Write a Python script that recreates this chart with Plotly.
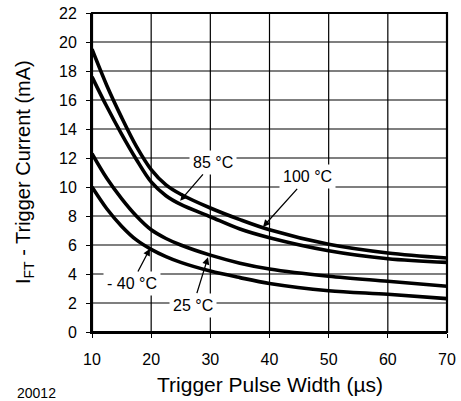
import plotly.graph_objects as go

# ---- data ----
pulse_width = [10, 12.5, 15, 17.5, 20, 22.5, 25, 30, 35, 40, 50, 60, 70]
i_100c = [19.5, 17.0, 14.8, 12.8, 11.2, 10.15, 9.5, 8.55, 7.75, 7.05, 6.05, 5.45, 5.1]
i_85c = [17.6, 15.55, 13.65, 11.9, 10.35, 9.4, 8.8, 7.95, 7.1, 6.5, 5.6, 5.05, 4.8]
i_25c = [12.3, 10.6, 9.2, 8.0, 7.05, 6.45, 6.0, 5.3, 4.75, 4.35, 3.85, 3.5, 3.15]
i_m40c = [10.0, 8.5, 7.3, 6.35, 5.7, 5.2, 4.8, 4.2, 3.75, 3.35, 2.85, 2.6, 2.3]

series_names = ["100 °C", "85 °C", "25 °C", "- 40 °C"]
series_values = [i_100c, i_85c, i_25c, i_m40c]

label_text = ["85 °C", "100 °C", "- 40 °C", "25 °C"]
label_pos = [(30.5, 11.7), (46.5, 10.7), (16.7, 3.35), (27.1, 1.85)]
arrow_tip = [(24.9, 9.05), (38.9, 7.25), (19.8, 5.75), (29.6, 5.15)]

x_ticks = [10, 20, 30, 40, 50, 60, 70]
y_ticks = [0, 2, 4, 6, 8, 10, 12, 14, 16, 18, 20, 22]

FONT = "Liberation Sans, Arial, Helvetica, sans-serif"

fig = go.Figure()
for name, vals in zip(series_names, series_values):
    fig.add_trace(go.Scatter(
        x=pulse_width, y=vals, mode="lines", name=name,
        line=dict(color="black", width=3.6, shape="spline", smoothing=0.9),
        hoverinfo="x+y+name",
    ))

# grid lines placed on the axes' own scales at the tick values
for xv in x_ticks:
    fig.add_shape(type="line", xref="x", yref="paper", x0=xv, x1=xv, y0=0, y1=1,
                  line=dict(color="black", width=1.2), layer="below")
for yv in y_ticks:
    fig.add_shape(type="line", xref="paper", yref="y", x0=0, x1=1, y0=yv, y1=yv,
                  line=dict(color="black", width=1.2), layer="below")
# plot frame
fig.add_shape(type="rect", xref="paper", yref="paper", x0=0, x1=1, y0=0, y1=1,
              line=dict(color="black", width=2.2), fillcolor="rgba(0,0,0,0)", layer="above")

for txt, (lx, ly), (tx, ty) in zip(label_text, label_pos, arrow_tip):
    fig.add_annotation(
        x=tx, y=ty, xref="x", yref="y",
        ax=lx, ay=ly, axref="x", ayref="y",
        text=txt, showarrow=True,
        arrowhead=2, arrowsize=1.1, arrowwidth=1.3, arrowcolor="black",
        bgcolor="white", borderpad=3,
        font=dict(family=FONT, size=16, color="black"),
    )

fig.add_annotation(
    x=-0.156, y=-0.19, xref="paper", yref="paper",
    text="20012", showarrow=False, xanchor="center", yanchor="middle",
    font=dict(family=FONT, size=14, color="black"),
)
fig.add_annotation(
    x=0.5, y=-0.165, xref="paper", yref="paper",
    text="Trigger Pulse Width (µs)", showarrow=False,
    xanchor="center", yanchor="middle",
    font=dict(family=FONT, size=21, color="black"),
)
fig.add_annotation(
    x=-0.19, y=0.5, xref="paper", yref="paper",
    text="I<sub>FT</sub> - Trigger Current (mA)", showarrow=False,
    xanchor="center", yanchor="middle", textangle=-90,
    font=dict(family=FONT, size=20, color="black"),
)

axis_common = dict(
    showgrid=False, showline=True, linecolor="#000000", linewidth=2, mirror=False,
    ticks="outside", ticklen=4, tickcolor="#000000", tickwidth=1.2,
    tickfont=dict(family=FONT, size=16, color="black"),
    zeroline=False, automargin=False,
)

fig.update_layout(
    template="none",
    width=461, height=401,
    margin=dict(l=92, r=14, t=13, b=69, autoexpand=False),
    paper_bgcolor="white", plot_bgcolor="white",
    showlegend=False,
    font=dict(family=FONT, color="black"),
    xaxis=dict(range=[10, 70], tickvals=x_ticks, ticktext=[str(v) for v in x_ticks],
               ticklabelstandoff=8, **axis_common),
    yaxis=dict(range=[0, 22], tickvals=y_ticks, ticktext=[str(v) for v in y_ticks],
               ticklabelstandoff=6, **axis_common),
)

fig.write_html("out.html", post_script="document.body.style.margin='0';",
               config={"displayModeBar": False})
